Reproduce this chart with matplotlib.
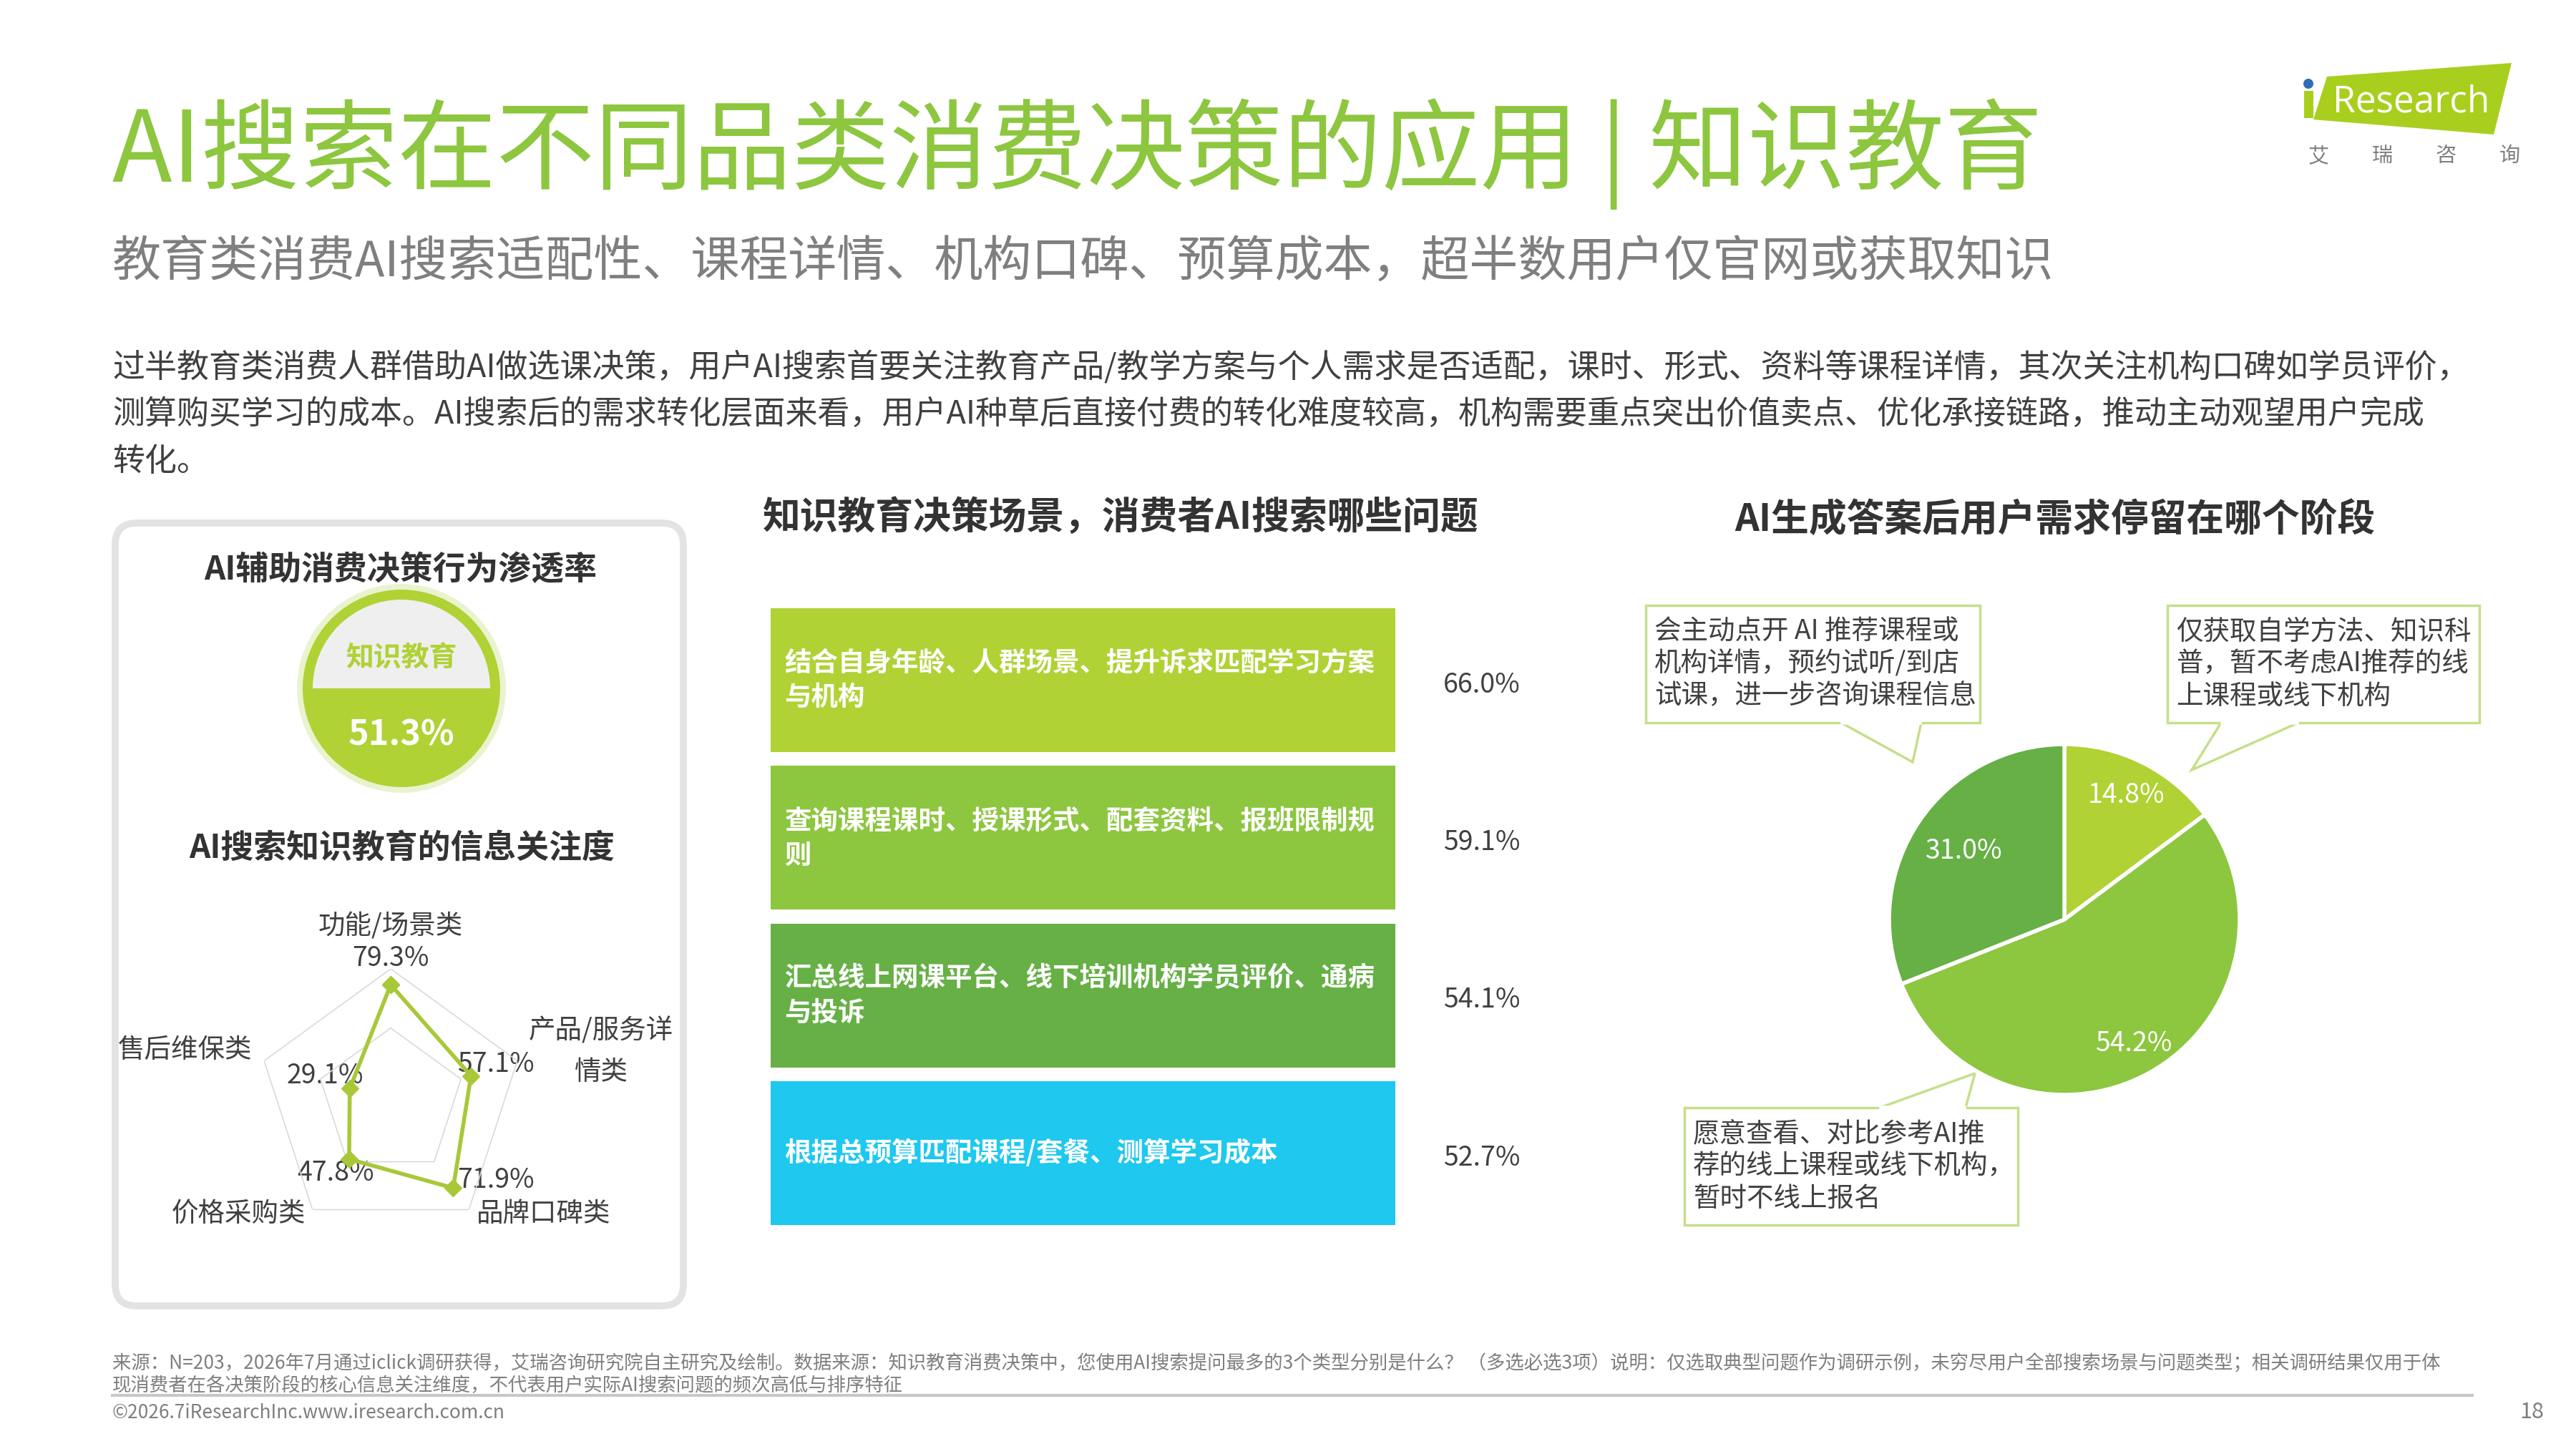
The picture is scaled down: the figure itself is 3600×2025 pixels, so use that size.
import matplotlib
matplotlib.use("Agg")
import matplotlib.pyplot as plt
import numpy as np
from matplotlib.patches import Circle, Wedge, FancyBboxPatch, Polygon, Rectangle

plt.rcParams['font.family'] = ['Noto Sans CJK SC', 'DejaVu Sans']

# region Source Data
title = "AI搜索在不同品类消费决策的应用 | 知识教育"
subtitle = "教育类消费AI搜索适配性、课程详情、机构口碑、预算成本，超半数用户仅官网或获取知识"
body_lines = [
    "过半教育类消费人群借助AI做选课决策，用户AI搜索首要关注教育产品/教学方案与个人需求是否适配，课时、形式、资料等课程详情，其次关注机构口碑如学员评价，",
    "测算购买学习的成本。AI搜索后的需求转化层面来看，用户AI种草后直接付费的转化难度较高，机构需要重点突出价值卖点、优化承接链路，推动主动观望用户完成",
    "转化。",
]

penetration_label = "知识教育"
penetration_value = 51.3

radar_labels = ["功能/场景类", "产品/服务详\n情类", "品牌口碑类", "价格采购类", "售后维保类"]
radar_values = [79.3, 57.1, 71.9, 47.8, 29.1]

bar_labels = [
    "结合自身年龄、人群场景、提升诉求匹配学习方案\n与机构",
    "查询课程课时、授课形式、配套资料、报班限制规\n则",
    "汇总线上网课平台、线下培训机构学员评价、通病\n与投诉",
    "根据总预算匹配课程/套餐、测算学习成本",
]
bar_values = [66.0, 59.1, 54.1, 52.7]

pie_values = [14.8, 54.2, 31.0]
pie_notes = [
    "仅获取自学方法、知识科\n普，暂不考虑AI推荐的线\n上课程或线下机构",
    "愿意查看、对比参考AI推\n荐的线上课程或线下机构，\n暂时不线上报名",
    "会主动点开 AI 推荐课程或\n机构详情，预约试听/到店\n试课，进一步咨询课程信息",
]

footer_lines = [
    "来源：N=203，2026年7月通过iclick调研获得，艾瑞咨询研究院自主研究及绘制。数据来源：知识教育消费决策中，您使用AI搜索提问最多的3个类型分别是什么？ （多选必选3项）说明：仅选取典型问题作为调研示例，未穷尽用户全部搜索场景与问题类型；相关调研结果仅用于体",
    "现消费者在各决策阶段的核心信息关注维度，不代表用户实际AI搜索问题的频次高低与排序特征",
]
copyright_text = "©2026.7iResearchInc.www.iresearch.com.cn"
page_no = "18"
# endregion

W, H = 3600, 2025
GREEN_T = "#8DC63F"
LIME = "#B0D235"
GREEN = "#8DC63F"
DGREEN = "#66B046"
CYAN = "#1EC8EF"
DARK = "#333333"
TEXT = "#404040"
GRAY = "#7F7F7F"


def frac(x, y, w, h):
    # pixel box (top-left origin) -> figure fraction rect
    return [x / W, 1 - (y + h) / H, w / W, h / H]


fig = plt.figure(figsize=(36, 20.25), dpi=100)
fig.patch.set_facecolor("white")

# overlay axis in pixel coordinates
bg = fig.add_axes([0, 0, 1, 1])
bg.set_xlim(0, W)
bg.set_ylim(H, 0)
bg.axis("off")

# region header
bg.text(157, 215, title, fontsize=99, color=GREEN_T, va="center", ha="left", fontweight="light")
bg.text(157, 368, subtitle, fontsize=49, color=GRAY, va="center", ha="left")
for i, line in enumerate(body_lines):
    bg.text(157, 513 + i * 66, line, fontsize=32.4, color=TEXT, va="center", ha="left")

# logo
bg.add_patch(Polygon([(3252, 107), (3510, 88), (3485, 188), (3233, 167)], closed=True,
                     facecolor="#A8CF1E", edgecolor="none"))
bg.add_patch(Rectangle((3220, 127), 13, 38, facecolor="#A8CF1E", edgecolor="none"))
bg.add_patch(Circle((3226, 117), 7, facecolor="#2F6DB5", edgecolor="none"))
bg.text(3370, 143, "Research", fontsize=37, color="white", ha="center", va="center",
        family="Open Sans")
for k, ch in enumerate("艾瑞咨询"):
    bg.text(3240 + k * 89, 218, ch, fontsize=21, color=GRAY, ha="center", va="center")
# endregion

# region left panel
bg.add_patch(FancyBboxPatch((161, 731), 794, 1094, boxstyle="round,pad=0,rounding_size=30",
                            facecolor="white", edgecolor="#E3E3E3", linewidth=7))
bg.text(560, 797, "AI辅助消费决策行为渗透率", fontsize=33, fontweight="bold", color=DARK,
        ha="center", va="center")

cx, cy = 561, 962
bg.add_patch(Circle((cx, cy), 146, facecolor="#DDEBB0", edgecolor="none", alpha=0.6))
bg.add_patch(Circle((cx, cy), 138, facecolor=LIME, edgecolor="none"))
bg.add_patch(Wedge((cx, cy), 124, 180, 360, facecolor="#EFEFEF", edgecolor="none"))
bg.text(cx, 920, penetration_label, fontsize=28, fontweight="bold", color=LIME,
        ha="center", va="center")
bg.text(cx, 1027, f"{penetration_value:.1f}%", fontsize=35, fontweight="bold", color="white",
        ha="center", va="center")

bg.text(562, 1186, "AI搜索知识教育的信息关注度", fontsize=33, fontweight="bold", color=DARK,
        ha="center", va="center")

# radar
rc_x, rc_y, rr = 546, 1540, 186
rmax = 90.0
rad = fig.add_axes(frac(rc_x - rr, rc_y - rr, 2 * rr, 2 * rr), projection="polar")
rad.patch.set_alpha(0)
rad.set_theta_offset(np.pi / 2)
rad.set_theta_direction(-1)
rad.set_ylim(0, rmax)
rad.axis("off")
ang = np.linspace(0, 2 * np.pi, len(radar_values), endpoint=False)
ang_c = np.append(ang, ang[0])
for lvl in [50, 90]:
    rad.plot(ang_c, [lvl] * len(ang_c), color="#DADADA", linewidth=1.2)
vals_c = np.append(radar_values, radar_values[0])
rad.plot(ang_c, vals_c, color="#A8C838", linewidth=4, marker="D", markersize=12,
         markerfacecolor="#A8C838", markeredgecolor="#A8C838", clip_on=False)

radar_lab_pos = [(546, 1295), (840, 1470), (760, 1696), (333, 1696), (259, 1467)]
radar_val_pos = [(546, 1339), (693, 1488), (693, 1649), (469, 1640), (454, 1503)]
for lab, val, lp, vp in zip(radar_labels, radar_values, radar_lab_pos, radar_val_pos):
    bg.text(lp[0], lp[1], lab, fontsize=27, color=TEXT, ha="center", va="center",
            linespacing=1.6)
    bg.text(vp[0], vp[1], f"{val:.1f}%", fontsize=27, color=TEXT, ha="center", va="center")
# endregion

# region middle bars
bg.text(1065, 723, "知识教育决策场景，消费者AI搜索哪些问题", fontsize=38, fontweight="bold",
        color=DARK, ha="left", va="center")
bax = fig.add_axes(frac(1077, 850, 873, 862))
bar_colors = [LIME, GREEN, DGREEN, CYAN]
ypos = np.arange(len(bar_values))
bh = 200 / 219
bax.barh(ypos, [1] * len(bar_values), height=bh, color=bar_colors)
bax.set_xlim(0, 1)
bax.set_ylim(len(bar_values) - 1 + bh / 2, -bh / 2)
bax.axis("off")
for i, (lab, v) in enumerate(zip(bar_labels, bar_values)):
    bax.text(0.022, i, lab, fontsize=27, fontweight="bold", color="white", ha="left",
             va="center", linespacing=1.3)
    bax.text(1.138, i + 0.03, f"{v:.1f}%", fontsize=27, color=TEXT, ha="center", va="center",
             clip_on=False)
# endregion

# region right pie
bg.text(2872, 726, "AI生成答案后用户需求停留在哪个阶段", fontsize=38, fontweight="bold",
        color=DARK, ha="center", va="center")
pr = 245
pax = fig.add_axes(frac(2885 - pr, 1285 - pr, 2 * pr, 2 * pr))
wedges, _ = pax.pie(pie_values, colors=[LIME, GREEN, DGREEN], startangle=90, counterclock=False,
                    radius=1, wedgeprops=dict(edgecolor="white", linewidth=4))
pax.set_xlim(-1, 1)
pax.set_ylim(-1, 1)
pax.set_aspect("equal")
pct_dist = [0.79, 0.81, 0.69]
for w, v, d in zip(wedges, pie_values, pct_dist):
    th = np.deg2rad((w.theta1 + w.theta2) / 2)
    pax.text(d * np.cos(th), d * np.sin(th), f"{v:.1f}%", fontsize=27, color="white",
             ha="center", va="center")

# callouts: box (x, y, w, h), tail (base1, tip, base2)
callouts = [
    ((3029, 846, 436, 164), [(3104, 1010), (3063, 1076), (3212, 1010)]),
    ((2354, 1548, 466, 164), [(2627, 1548), (2760, 1500), (2747, 1548)]),
    ((2300, 846, 467, 164), [(2573, 1010), (2673, 1065), (2685, 1010)]),
]
for (bx, by, bw, bhh), tail in callouts:
    bg.add_patch(Rectangle((bx, by), bw, bhh, facecolor="white", edgecolor="#C5DF8A",
                           linewidth=2.5, zorder=3))
    bg.add_patch(Polygon(tail, closed=False, facecolor="white", edgecolor="#C5DF8A",
                         linewidth=2.5, zorder=3))
    bg.plot([tail[0][0] + 2, tail[2][0] - 2], [tail[0][1], tail[2][1]], color="white",
            linewidth=4, zorder=4)
for ((bx, by, bw, bhh), _), note in zip(callouts, pie_notes):
    bg.text(bx + 12, by + bhh / 2, note, fontsize=27, color=TEXT, ha="left", va="center",
            linespacing=1.2, zorder=5)
# endregion

# region footer
for i, line in enumerate(footer_lines):
    bg.text(157, 1906 + i * 30, line, fontsize=19, color=GRAY, ha="left", va="center")
bg.plot([157, 3455], [1950, 1950], color="#C8C8C8", linewidth=3)
bg.text(157, 1975, copyright_text, fontsize=19, color=GRAY, ha="left", va="center")
bg.text(3538, 1973, page_no, fontsize=22, color=GRAY, ha="center", va="center")
# endregion

fig.savefig("out.png", dpi=100, facecolor="white")
